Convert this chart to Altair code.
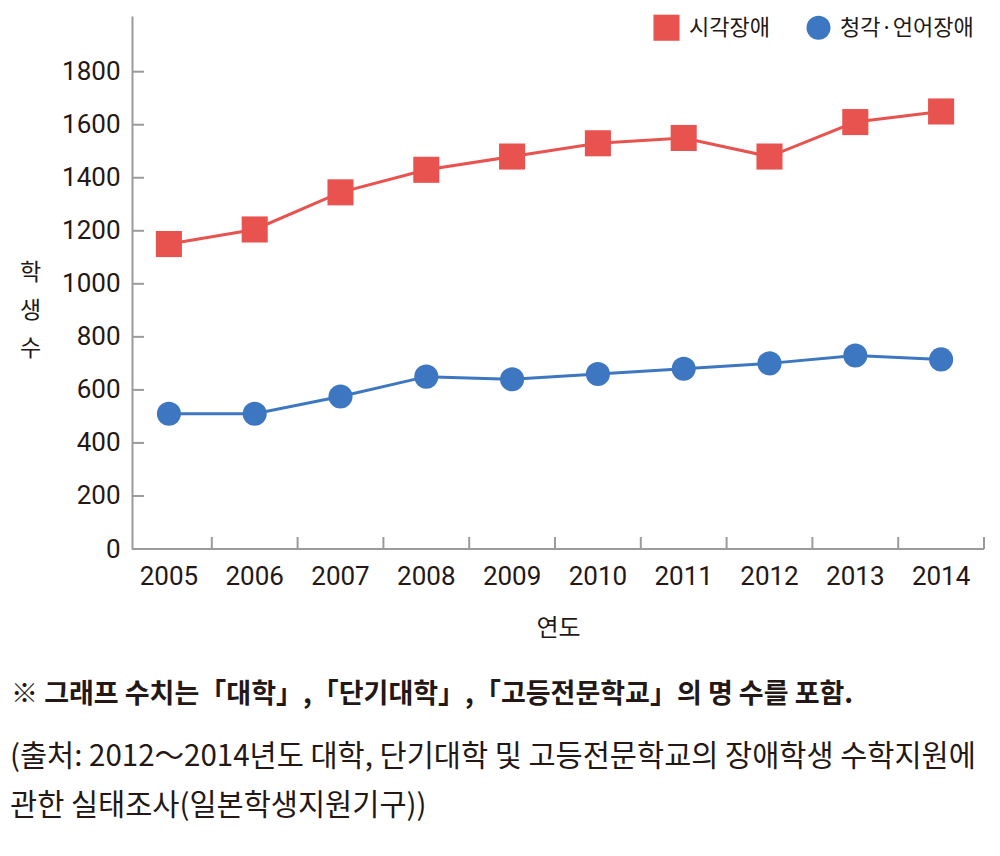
import altair as alt
import pandas as pd

years = ["2005", "2006", "2007", "2008", "2009", "2010", "2011", "2012", "2013", "2014"]
visual = [1150, 1205, 1345, 1430, 1480, 1530, 1550, 1480, 1610, 1650]
hearing = [510, 510, 575, 650, 640, 660, 680, 700, 730, 715]
series_names = ["시각장애", "청각·언어장애"]
y_ticks = [0, 200, 400, 600, 800, 1000, 1200, 1400, 1600, 1800]
note_line1 = "※ 그래프 수치는「대학」,「단기대학」,「고등전문학교」의 명 수를 포함."
note_line2 = "(출처: 2012～2014년도 대학, 단기대학 및 고등전문학교의 장애학생 수학지원에"
note_line3 = "관한 실태조사(일본학생지원기구))"

RED = "#E9534F"
BLUE = "#3E77C1"
GRAY = "#9b9b9b"
INK = "#231815"
KFONT = "Noto Sans CJK KR"
NFONT = "Roboto"

W, H = 852, 533

rows = []
for y, v in zip(years, visual):
    rows.append({"year": y, "value": v, "series": series_names[0]})
for y, v in zip(years, hearing):
    rows.append({"year": y, "value": v, "series": series_names[1]})
df = pd.DataFrame(rows)

xscale = alt.Scale(type="band", paddingInner=0, paddingOuter=0, domain=years, range=[-6, W])
yscale = alt.Scale(domain=[0, 2010], nice=False)

x_axis = alt.Axis(
    title="연도",
    labelAngle=0,
    ticks=False,
    domain=False,
    labelPadding=14,
    labelFont=NFONT,
    labelFontSize=26,
    labelColor=INK,
    titleFont=KFONT,
    titleFontSize=24,
    titleFontWeight="normal",
    titleColor=INK,
    titleX=426,
    titleY=79,
    titleBaseline="middle",
    grid=False,
)
y_axis = alt.Axis(
    title=["학", "생", "수"],
    values=y_ticks,
    format="d",
    ticks=False,
    labelPadding=12,
    labelFont=NFONT,
    labelFontSize=26,
    labelColor=INK,
    domainColor=GRAY,
    domainWidth=2,
    titleFont=KFONT,
    titleFontSize=23,
    titleFontWeight="normal",
    titleColor=INK,
    titleAngle=0,
    titleAlign="center",
    titleBaseline="middle",
    titleLineHeight=38,
    titleX=-102,
    titleY=256,
    grid=False,
)

x_enc = alt.X("year:O", scale=xscale, axis=x_axis)
y_enc = alt.Y("value:Q", scale=yscale, axis=y_axis)

legend = alt.Legend(
    title=None,
    orient="none",
    direction="horizontal",
    legendX=521,
    legendY=-2,
    labelFont=KFONT,
    labelFontSize=22,
    labelColor=INK,
    symbolSize=440,
    symbolStrokeWidth=0,
    labelOffset=9,
    columnPadding=36,
    padding=0,
)
color_enc = alt.Color("series:N", scale=alt.Scale(domain=series_names, range=[RED, BLUE]), legend=legend)
shape_enc = alt.Shape("series:N", scale=alt.Scale(domain=series_names, range=["square", "circle"]), legend=legend)
size_enc = alt.Size("series:N", scale=alt.Scale(domain=series_names, range=[680, 580]), legend=None)

lines = alt.Chart(df).mark_line(strokeWidth=3).encode(x=x_enc, y=y_enc, color=color_enc, detail="series:N")
points = alt.Chart(df).mark_point(filled=True, opacity=1).encode(
    x=x_enc, y=y_enc, color=color_enc, shape=shape_enc, size=size_enc
)

ytick_df = pd.DataFrame({"value": y_ticks[1:]})
yticks = alt.Chart(ytick_df).mark_rule(color=GRAY, strokeWidth=2).encode(
    y=y_enc,
    x=alt.value(0),
    x2=alt.value(12),
)
xtick_df = pd.DataFrame({"year": years})
xticks = alt.Chart(xtick_df).mark_rule(color=GRAY, strokeWidth=2).encode(
    x=alt.X("year:O", scale=xscale, bandPosition=1, axis=x_axis),
    y=alt.value(H),
    y2=alt.value(H - 12),
)
xdomain = alt.Chart(pd.DataFrame({"value": [0]})).mark_rule(color=GRAY, strokeWidth=2).encode(
    y=y_enc,
    x=alt.value(0),
    x2=alt.value(W),
)

note1 = alt.Chart(pd.DataFrame({"t": [note_line1]})).mark_text(
    align="left", baseline="middle", font=KFONT, fontSize=27, fontWeight="bold", color=INK
).encode(text="t:N", x=alt.value(-121), y=alt.value(679))
note2 = alt.Chart(pd.DataFrame({"t": [note_line2 + "\n" + note_line3]})).mark_text(
    align="left", baseline="middle", font=KFONT, fontSize=29.5, color=INK, lineBreak="\n", lineHeight=49
).encode(text="t:N", x=alt.value(-122), y=alt.value(741))

chart = alt.layer(lines, points, yticks, xticks, xdomain, note1, note2).properties(
    width=W,
    height=H,
    autosize=alt.AutoSizeParams(type="none"),
    padding={"left": 132, "top": 16, "right": 16, "bottom": 307},
    background="white",
).configure_view(stroke=None)

chart.save("out.html", embed_options={"renderer": "svg", "actions": False})
